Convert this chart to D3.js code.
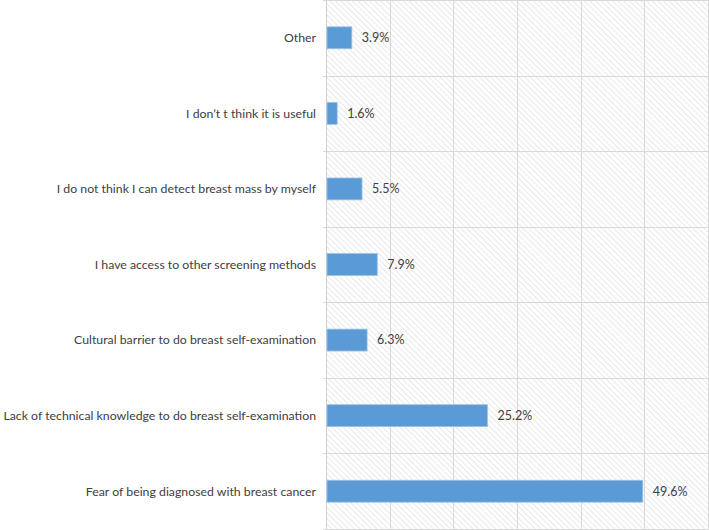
<!DOCTYPE html>
<html>
<head>
<meta charset="utf-8">
<script src="https://cdn.jsdelivr.net/npm/d3@7"></script>
<style>
  body { margin: 0; background: #fff; }
  svg text { font-family: Lato, "Open Sans", sans-serif; }
</style>
</head>
<body>
<div id="chart"></div>
<script>
const categories = [
  "Other",
  "I don\u2019t t think it is useful",
  "I do not think I can detect breast mass by myself",
  "I have access to other screening methods",
  "Cultural barrier to do breast self-examination",
  "Lack of technical knowledge to do breast self-examination",
  "Fear of being diagnosed with breast cancer"
];
const values = [3.9, 1.6, 5.5, 7.9, 6.3, 25.2, 49.6];
const xTicks = [0, 10, 20, 30, 40, 50, 60];

const width = 709;
const height = 530;
const margin = {top: 0, right: 0, bottom: 1, left: 327};

const svg = d3.select("#chart")
  .append("svg")
  .attr("width", width)
  .attr("height", height);

// hatch background
const pat = svg.append("defs").append("pattern")
  .attr("id", "hatch")
  .attr("patternUnits", "userSpaceOnUse")
  .attr("width", 4)
  .attr("height", 4)
  .attr("patternTransform", "rotate(-45)");
pat.append("rect").attr("width", 4).attr("height", 4).attr("fill", "#ffffff");
pat.append("line")
  .attr("x1", 0).attr("y1", 0).attr("x2", 0).attr("y2", 4)
  .attr("stroke", "#d6d6d6").attr("stroke-width", 1.1);

const x = d3.scaleLinear()
  .domain([0, 60])
  .range([margin.left, width]);

const y = d3.scaleBand()
  .domain(categories)
  .range([margin.top, height - margin.bottom])
  .paddingInner(0.71)
  .paddingOuter(0.355);

const rows = d3.scaleBand()
  .domain(categories)
  .range([margin.top, height - margin.bottom]);

svg.append("rect")
  .attr("x", x(0))
  .attr("y", margin.top)
  .attr("width", x(60) - x(0))
  .attr("height", height - margin.bottom - margin.top)
  .attr("fill", "url(#hatch)");

// vertical grid
svg.append("g")
  .selectAll("line")
  .data(xTicks.slice(1))
  .join("line")
  .attr("x1", d => Math.round(x(d)) - 0.5)
  .attr("x2", d => Math.round(x(d)) - 0.5)
  .attr("y1", margin.top)
  .attr("y2", height - margin.bottom)
  .attr("stroke", "#d9d9d9")
  .attr("stroke-width", 1);

// horizontal row lines with small ticks to the left
const rowEdges = categories.map(c => rows(c)).concat([height - margin.bottom]);
svg.append("g")
  .selectAll("line")
  .data(rowEdges)
  .join("line")
  .attr("x1", x(0) - 4)
  .attr("x2", width)
  .attr("y1", d => Math.round(d) + 0.5)
  .attr("y2", d => Math.round(d) + 0.5)
  .attr("stroke", "#d9d9d9")
  .attr("stroke-width", 1);

// left axis line
svg.append("line")
  .attr("x1", x(0) - 0.5).attr("x2", x(0) - 0.5)
  .attr("y1", margin.top).attr("y2", height - margin.bottom)
  .attr("stroke", "#d0d0d0");

// bars
svg.append("g")
  .selectAll("rect")
  .data(values)
  .join("rect")
  .attr("x", x(0))
  .attr("y", (d, i) => y(categories[i]))
  .attr("width", d => x(d) - x(0))
  .attr("height", y.bandwidth())
  .attr("fill", "#5b9bd5")
  .attr("stroke", "#9dc3e6")
  .attr("stroke-width", 0.8);

// value labels
svg.append("g")
  .selectAll("text")
  .data(values)
  .join("text")
  .attr("x", d => x(d) + 10)
  .attr("y", (d, i) => y(categories[i]) + y.bandwidth() / 2)
  .attr("dy", "0.35em")
  .attr("font-size", 12.5)
  .attr("fill", "#404040")
  .text(d => d.toFixed(1) + "%");

// category labels
svg.append("g")
  .selectAll("text")
  .data(categories)
  .join("text")
  .attr("x", x(0) - 11)
  .attr("y", d => y(d) + y.bandwidth() / 2)
  .attr("dy", "0.35em")
  .attr("text-anchor", "end")
  .attr("font-size", 12.3)
  .attr("fill", "#404040")
  .text(d => d);
</script>
</body>
</html>
